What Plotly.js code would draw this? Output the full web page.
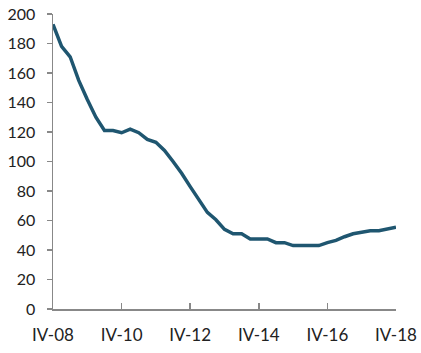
<!DOCTYPE html>
<html>
<head>
<meta charset="utf-8">
<script src="https://cdn.plot.ly/plotly-3.0.1.min.js"></script>
<style>html,body{margin:0;padding:0;background:#fff;}#chart{width:421px;height:353px;}</style>
</head>
<body>
<div id="chart"></div>
<script>
const quarters = ["IV-08","I-09","II-09","III-09","IV-09","I-10","II-10","III-10","IV-10","I-11","II-11","III-11","IV-11","I-12","II-12","III-12","IV-12","I-13","II-13","III-13","IV-13","I-14","II-14","III-14","IV-14","I-15","II-15","III-15","IV-15","I-16","II-16","III-16","IV-16","I-17","II-17","III-17","IV-17","I-18","II-18","III-18","IV-18"];
const values = [193,178,171,155,142,130,121,121,119.5,122,119.5,115,113,107.5,100,92,83,74,65.5,60.5,54,51,51,47.5,47.5,47.5,45,45,43,43,43,43,45,46.5,49,51,52,53,53,54,55.5];
const xTickLabels = ["IV-08","IV-10","IV-12","IV-14","IV-16","IV-18"];
const yTickValues = [0,20,40,60,80,100,120,140,160,180,200];

const trace = {
  x: quarters, y: values, type: 'scatter', mode: 'lines',
  line: {color: '#1f5670', width: 3.5, shape: 'linear'},
  hoverinfo: 'skip'
};
const layout = {
  width: 421, height: 353,
  margin: {l: 53, r: 25, t: 14, b: 44},
  paper_bgcolor: '#fff', plot_bgcolor: '#fff',
  showlegend: false,
  font: {family: 'Lato, "Open Sans", sans-serif', size: 16, color: '#222'},
  xaxis: {
    type: 'category', range: [0, quarters.length - 1],
    tickmode: 'array', tickvals: xTickLabels, ticktext: xTickLabels,
    ticks: 'inside', ticklen: 6, tickcolor: '#888', tickwidth: 1.5,
    showline: true, linecolor: '#888', linewidth: 1.5,
    showgrid: false, zeroline: false,
    ticklabelstandoff: 10,
    tickfont: {size: 17, color: '#222'}
  },
  yaxis: {
    range: [0, 200], tickmode: 'array', tickvals: yTickValues,
    ticks: 'outside', ticklen: 5, tickcolor: '#888', tickwidth: 1.5,
    showline: true, linecolor: '#888', linewidth: 1.5,
    showgrid: false, zeroline: false,
    ticklabelstandoff: 8,
    tickfont: {size: 16, color: '#222'}
  }
};
Plotly.newPlot('chart', [trace], layout, {displayModeBar: false, staticPlot: true});
</script>
</body>
</html>
